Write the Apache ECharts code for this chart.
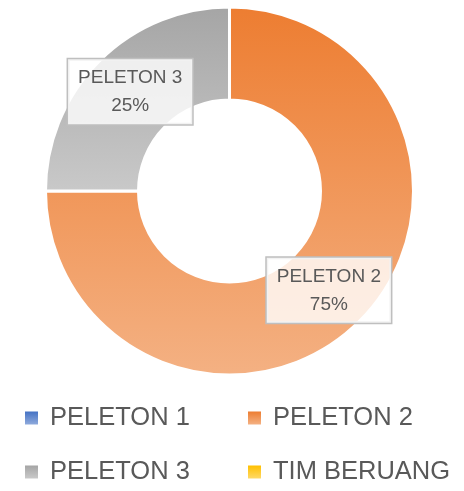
<!DOCTYPE html>
<html>
<head>
<meta charset="utf-8">
<script src="https://cdn.jsdelivr.net/npm/echarts@6/dist/echarts.min.js"></script>
<style>
  html, body { margin: 0; padding: 0; background: #ffffff; }
  #pie { width: 464px; height: 491px; }
</style>
</head>
<body>
<div id="pie"></div>
<script>
var categories = ['PELETON 1', 'PELETON 2', 'PELETON 3', 'TIM BERUANG'];
var values = [0, 75, 25, 0];
var topColors = ['#4472C4', '#ED7D31', '#A5A5A5', '#FFC000'];
var bottomColors = ['#8FAADC', '#F4B183', '#C9C9C9', '#FFD966'];

function grad(i) {
  return new echarts.graphic.LinearGradient(0, 0, 0, 1, [
    { offset: 0, color: topColors[i] },
    { offset: 1, color: bottomColors[i] }
  ]);
}

var pieData = categories.map(function (name, i) {
  return {
    name: name,
    value: values[i],
    itemStyle: { color: grad(i) },
    label: { show: values[i] > 0 }
  };
});

var mychart = echarts.init(document.getElementById('pie'));
var option = {
  backgroundColor: '#ffffff',
  legend: {
    left: 25,
    top: 403,
    padding: 0,
    width: 440,
    itemGap: 24,
    itemWidth: 13,
    itemHeight: 13,
    icon: 'rect',
    itemStyle: { borderWidth: 0, borderColor: 'transparent' },
    textStyle: {
      color: '#595959',
      fontFamily: 'Liberation Sans',
      fontSize: 25.5,
      lineHeight: 30,
      width: 174,
      padding: [0, 0, 0, 7]
    },
    data: categories
  },
  series: [{
    type: 'pie',
    center: [229.5, 191],
    radius: [91, 184],
    startAngle: 90,
    clockwise: true,
    silent: true,
    itemStyle: {
      borderColor: '#ffffff',
      borderWidth: 3
    },
    label: {
      position: 'inside',
      formatter: '{b}\n{d}%',
      color: '#595959',
      fontFamily: 'Liberation Sans',
      fontSize: 19,
      lineHeight: 28,
      backgroundColor: 'rgba(255,255,255,0.8)',
      borderColor: '#bfbfbf',
      borderWidth: 1.5,
      padding: [5, 10, 4, 10]
    },
    labelLine: { show: false },
    data: pieData
  }]
};
mychart.setOption(option);
</script>
</body>
</html>
